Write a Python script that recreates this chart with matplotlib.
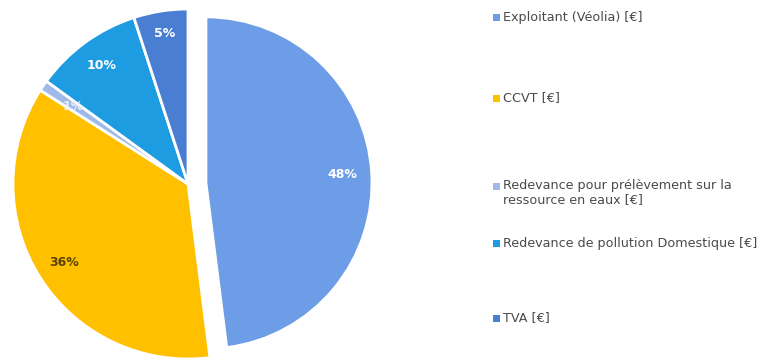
import matplotlib
matplotlib.use("Agg")
import matplotlib.pyplot as plt
from matplotlib.patches import Rectangle
import numpy as np

labels = [
    "Exploitant (Véolia) [€]",
    "CCVT [€]",
    "Redevance pour prélèvement sur la\nressource en eaux [€]",
    "Redevance de pollution Domestique [€]",
    "TVA [€]",
]
shares = [48, 36, 1, 10, 5]
pct_labels = ["48%", "36%", "1%", "10%", "5%"]
colors = ["#6d9de6", "#ffc000", "#9fb9e8", "#1d9ce2", "#4a7ed3"]
label_colors = ["#ffffff", "#5a4300", "#e8eefa", "#ffffff", "#ffffff"]

W, H = 767, 362
fig = plt.figure(figsize=(W / 100, H / 100), dpi=100)
ax = fig.add_axes([0, 0, 1, 1])

cx, cy, R = 188, H - 184, 175
explode = [18, 0, 0, 0, 0]  # offsets in axis units (pixels here)
wedges, _ = ax.pie(
    shares, colors=colors, explode=explode, startangle=90, counterclock=False,
    center=(cx, cy), radius=R, frame=True,
    wedgeprops=dict(edgecolor="white", linewidth=2.0),
)
# the pulled-out slice is drawn slightly smaller than the rest
wedges[0].set_radius(166)

ax.set_xlim(0, W)
ax.set_ylim(0, H)
ax.set_aspect("equal")
ax.axis("off")

pct_dist = [0.78, 0.84, 0.79, 0.84, 0.87]
for w, txt, col, d in zip(wedges, pct_labels, label_colors, pct_dist):
    ang = np.deg2rad((w.theta1 + w.theta2) / 2)
    x = w.center[0] + d * R * np.cos(ang)
    y = w.center[1] + d * R * np.sin(ang)
    ax.text(x, y, txt, ha="center", va="center", color=col,
            fontsize=9, fontweight="bold", family="DejaVu Sans")

# legend entries on the right
legend_y = [17, 98, 193, 243, 318]
for lab, col, yy in zip(labels, colors, legend_y):
    first_line_y = yy - 7 if "\n" in lab else yy
    ax.add_patch(Rectangle((493, H - first_line_y - 3.5), 7, 7,
                           facecolor=col, edgecolor="none"))
    ax.text(503, H - yy, lab, ha="left", va="center", fontsize=9.2,
            color="#4a4a4a", family="DejaVu Sans", linespacing=1.1)

fig.savefig("out.png", dpi=100, facecolor="white")
